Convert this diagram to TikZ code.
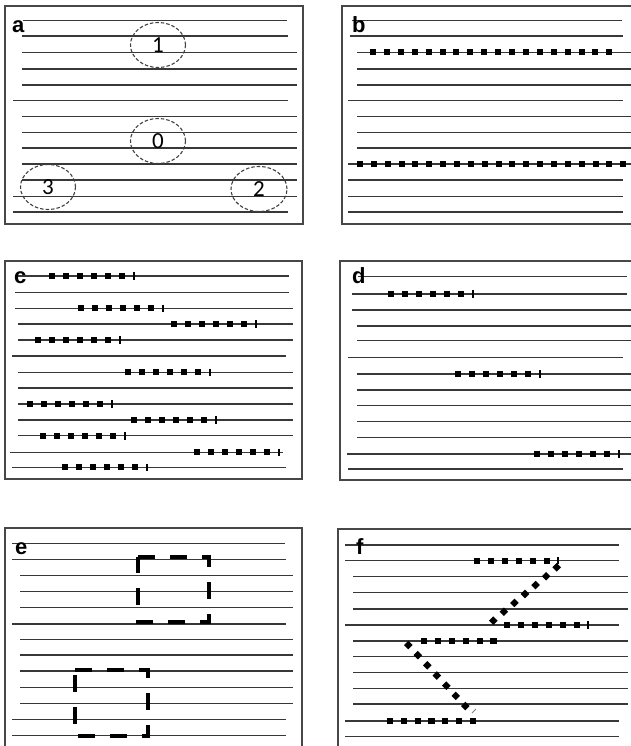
\documentclass[tikz,border=0pt]{standalone}
\usepackage{fontspec}
\setsansfont{Liberation Sans}
\newfontfamily\digitfont{Carlito}
\usetikzlibrary{shapes.geometric}
\tikzset{
  staffline/.style={line width=1.3pt, black!78},
  panelframe/.style={line width=1.4pt, black!72},
  panellabel/.style={anchor=base west, inner sep=0pt, font=\sffamily\bfseries\fontsize{22}{22}\selectfont},
  zone/.style={ellipse, draw=black!75, line width=1.1pt, dash pattern=on 3.5pt off 2pt,
               minimum width=55pt, minimum height=45pt, inner sep=0pt,
               font=\digitfont\fontsize{23}{23}\selectfont},
  boxdash/.style={line width=4.3pt, dash pattern=on 17pt off 15pt},
  endtick/.style={line width=2pt}
}
\begin{document}
\begin{tikzpicture}[x=1pt,y=-1pt]
  \useasboundingbox (0,0) rectangle (631,746);
  % frames
  \draw[panelframe] (5,6) rectangle (303,224);
  \draw[panelframe] (631,6) -- (342,6) -- (342,224) -- (631,224);
  \draw[panelframe] (5,261) rectangle (302,479);
  \draw[panelframe] (631,261) -- (340,261) -- (340,480) -- (631,480);
  \draw[panelframe] (5,746) -- (5,528) -- (302,528) -- (302,746);
  \draw[panelframe] (338,746) -- (338,529) -- (631,529);
  %
  % staff lines
  \foreach \y/\l/\r in {20.7/23/287, 36/22/288, 52.3/22/297, 69/22/297, 85/22/297,
      100.7/13/288, 116.7/22/297, 132.7/22/297, 148/22/297, 164/22/297,
      180/22/297, 196.7/13/297, 212/13/288}
    \draw[staffline] (\l,\y) -- (\r,\y);
  \foreach \y/\l/\r in {20.7/352/622, 36/350/623, 52.3/357/631, 69/357/631, 85/357/631,
      100.7/348/623, 116.7/357/631, 132.7/357/631, 148/357/631, 164/348/631,
      180/348/623, 196.7/348/623, 212/348/623}
    \draw[staffline] (\l,\y) -- (\r,\y);
  \foreach \y/\l/\r in {276/15/289, 292.7/15/289, 308.3/15/293, 324/18/293, 340/18/293,
      356/12/286, 372.3/18/293, 388/18/293, 404/18/293, 420/18/293,
      435.7/18/293, 452.3/10/283, 467.3/12/286}
    \draw[staffline] (\l,\y) -- (\r,\y);
  \foreach \y/\l/\r in {276.7/358/627, 294/352/627, 310/352/631, 326/357/631, 340.7/357/631,
      357.3/348/623, 374/357/631, 390/357/631, 405.3/357/631, 421.7/357/631,
      437.3/357/631, 454/347/631, 469/348/623}
    \draw[staffline] (\l,\y) -- (\r,\y);
  \foreach \y/\l/\r in {543.3/12/285, 559.3/12/286, 575.7/20/293, 591.7/20/293, 607.7/20/293,
      624/12/286, 639.3/20/293, 655/20/293, 671/20/293, 687.3/20/293,
      703.3/20/293, 719.3/12/286, 735.3/12/286}
    \draw[staffline] (\l,\y) -- (\r,\y);
  \foreach \y/\l/\r in {545/345/619, 560.7/345/619, 576.7/353/628, 592.3/353/628, 609/353/628,
      625/345/619, 641/353/628, 656.7/353/628, 672.3/353/628, 688.3/353/628,
      704/353/628, 721/345/619, 736.7/345/619}
    \draw[staffline] (\l,\y) -- (\r,\y);
  %
  % panel labels
  \node[panellabel] (la) at (12,33) {a};
  \node[panellabel] (lb) at (352,33) {b};
  \node[panellabel] (lc) at (14,283.3) {c};
  \node[panellabel] (ld) at (352,283.3) {d};
  \node[panellabel] (le) at (15,554) {e};
  \node[panellabel] (lf) at (356,554) {f};
  %
  % a: zones
  \node[zone] (z1) at (158,45) {1};
  \node[zone] (z0) at (158,141) {0};
  \node[zone] (z3) at (48,187) {3};
  \node[zone, minimum width=56pt] (z2) at (259,189) {2};
  %
  % b: two long rows
  \foreach \k in {0,...,17}
    \fill ({373+13.9*\k-3},{52.3-3}) rectangle ++(6,6);
  \foreach \k in {0,...,19}
    \fill ({360+13.86*\k-3},{164-3}) rectangle ++(6,6);
  %
  % c and d: short rows with end tick
  \foreach \x/\y in {51.7/276, 80.7/308.3, 174/324, 38.3/340, 128.3/372.3, 30/404,
      134/420, 42.7/435.7, 196.7/452.3, 65/467.3, 391/294, 458.3/374, 536.7/454} {
    \foreach \k in {0,...,5}
      \fill ({\x+14*\k-3},{\y-3}) rectangle ++(6,6);
    \draw[endtick] ({\x+82},{\y-3.8}) -- ({\x+82},{\y+3.8});
  }
  %
  % e: dashed squares
  \draw[boxdash] (138,557) -- (209,557) -- (209,622) -- (138,622) -- cycle;
  \draw[boxdash] (75,670) -- (148,670) -- (148,736) -- (75,736) -- cycle;
  %
  % f: zig-zag path
  \foreach \x/\y/\n/\s in {476.7/560.7/5/14, 506.7/625/5/14, 424/641/5/13.9, 390/721/6/13.8}
    \foreach \k in {0,...,\n}
      \fill ({\x+\s*\k-3.1},{\y-3.1}) rectangle ++(6.2,6.2);
  \foreach \k in {0,...,6} {
    \fill ({556.7-10.57*\k},{567.3+8.9*\k-4.3}) -- ++(4.3,4.3) -- ++(-4.3,4.3) -- ++(-4.3,-4.3) -- cycle;
    \fill ({408.3+9.5*\k},{645+10.17*\k-4.3}) -- ++(4.3,4.3) -- ++(-4.3,4.3) -- ++(-4.3,-4.3) -- cycle;
  }
  \draw[endtick] (587.7,621) -- (587.7,629);
  \draw[endtick] (558,557) -- (558,563.5);
  \draw[line width=0.8pt, black!50] (472,713) -- (476,709);
\end{tikzpicture}
\end{document}
